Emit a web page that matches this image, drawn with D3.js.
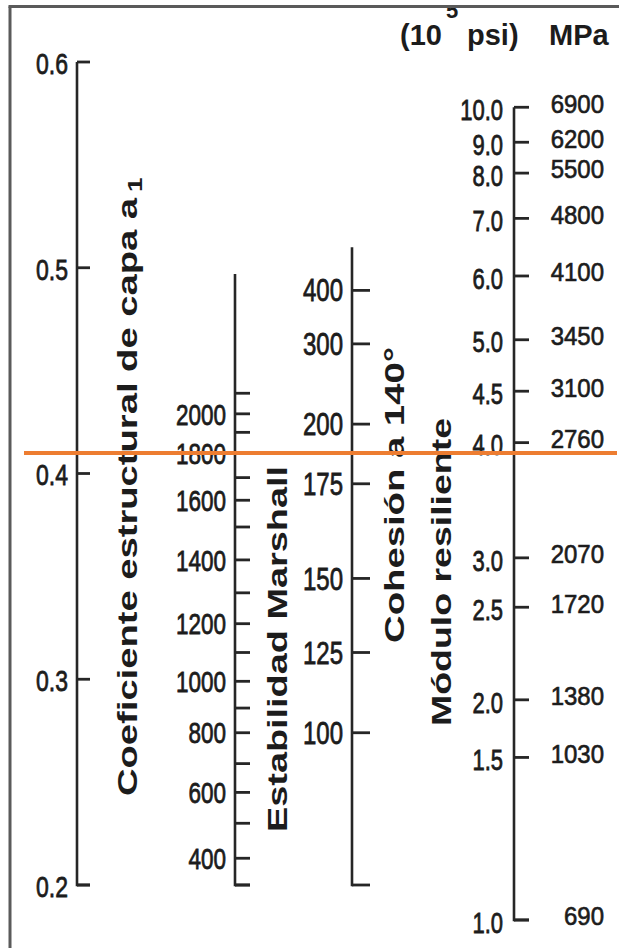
<!DOCTYPE html>
<html>
<head>
<meta charset="utf-8">
<script src="https://cdn.jsdelivr.net/npm/d3@7"></script>
<style>
  html, body { margin: 0; padding: 0; background: #fff; }
  svg { display: block; }
  text { font-family: "Liberation Sans", Arial, sans-serif; fill: #1c1c1c; }
</style>
</head>
<body>
<div id="nomo"></div>
<script>
// Coefficient a1 - the reference scale, everything else lines up against it
var a1Ticks = [0.2, 0.3, 0.4, 0.5, 0.6];

// Marshall stability: each tick and the a1 value it sits level with
var marshallValues = [300, 400, 500, 600, 700, 800, 900, 1000, 1100, 1200,
                      1300, 1400, 1500, 1600, 1700, 1800, 1900, 2000, 2100];
var marshallA1 = [0.200, 0.213, 0.230, 0.245, 0.259, 0.274, 0.286, 0.299, 0.313, 0.327,
                  0.342, 0.358, 0.374, 0.387, 0.398, 0.410, 0.420, 0.429, 0.439];
var marshallLabels = [400, 600, 800, 1000, 1200, 1400, 1600, 1800, 2000];

// Cohesion at 140 deg
var cohesionValues = [100, 125, 150, 175, 200, 300, 400];
var cohesionA1 = [0.274, 0.313, 0.349, 0.395, 0.424, 0.463, 0.489];

// Resilient modulus, 10^5 psi and MPa
var modulusPsi = [1.0, 1.5, 2.0, 2.5, 3.0, 4.0, 4.5, 5.0, 6.0, 7.0, 8.0, 9.0, 10.0];
var modulusMPa = [690, 1030, 1380, 1720, 2070, 2760, 3100, 3450, 4100, 4800, 5500, 6200, 6900];
var modulusA1 = [0.183, 0.262, 0.290, 0.335, 0.359, 0.415, 0.440, 0.465, 0.496, 0.524, 0.546, 0.561, 0.578];

// a1 range covered by each scale line
var a1Span = [0.2, 0.6];
var marshallSpan = [0.2, 0.497];
var cohesionSpan = [0.2, 0.51];
var modulusSpan = [0.183, 0.578];

// highlighted reading
var markedA1 = 0.41;

var width = 619;
var height = 948;
var frameTop = 6.5;

var svg = d3.select("#nomo")
    .append("svg")
    .attr("width", width)
    .attr("height", height);

svg.append("defs").append("clipPath")
    .attr("id", "frameClip")
    .append("rect")
    .attr("x", 11).attr("y", frameTop + 1.5)
    .attr("width", width).attr("height", height);

var y = d3.scaleLinear()
    .domain([0.2, 0.6])
    .range([885, 62]);

var marshallToA1 = d3.scaleLinear().domain(marshallValues).range(marshallA1);
var cohesionToA1 = d3.scaleLinear().domain(cohesionValues).range(cohesionA1);
var modulusToA1 = d3.scaleLinear().domain(modulusPsi).range(modulusA1);

var ink = "#262626";

// one vertical scale: line, ticks to the right, hook at the bottom
function drawScale(x, span, tickYs, tickLen) {
  var g = svg.append("g");
  g.append("line")
      .attr("x1", x).attr("x2", x)
      .attr("y1", y(span[0]) + 1.3).attr("y2", y(span[1]))
      .attr("stroke", ink)
      .attr("stroke-width", 2.6);

  g.selectAll("line.tick")
      .data(tickYs.concat([y(span[0])]))
      .enter()
      .append("line")
      .attr("class", "tick")
      .attr("x1", x).attr("x2", x + tickLen)
      .attr("y1", function(d) { return d; })
      .attr("y2", function(d) { return d; })
      .attr("stroke", ink)
      .attr("stroke-width", 2.8);
  return g;
}

// numeric labels; the scanned chart is stretched vertically, so are these
function drawLabels(items, x, anchor, size, stretch, dy) {
  svg.append("g")
      .selectAll("text")
      .data(items)
      .enter()
      .append("text")
      .attr("transform", function(d) {
        return "translate(" + x + "," + (d.y + dy) + ") scale(1," + stretch + ")";
      })
      .attr("dy", "0.36em")
      .attr("text-anchor", anchor)
      .style("font-size", size + "px")
      .style("stroke", "#1c1c1c")
      .style("stroke-width", 0.6)
      .text(function(d) { return d.t; });
}

// a1 scale
drawScale(77, a1Span, a1Ticks.map(function(v) { return y(v); }), 13);
drawLabels(a1Ticks.map(function(v) { return {y: y(v), t: v.toFixed(1)}; }),
    68, "end", 23, 1.3, 1);

// Marshall scale
drawScale(235, marshallSpan, marshallValues.map(function(v) { return y(marshallToA1(v)); }), 15);
drawLabels(marshallLabels.map(function(v) { return {y: y(marshallToA1(v)), t: String(v)}; }),
    226, "end", 22.5, 1.32, 0);

// Cohesion scale
drawScale(352, cohesionSpan, cohesionValues.map(function(v) { return y(cohesionToA1(v)); }), 18);
drawLabels(cohesionValues.map(function(v) { return {y: y(cohesionToA1(v)), t: String(v)}; }),
    343, "end", 24, 1.28, 0);

// Modulus scale, psi on the left, MPa on the right
drawScale(514, modulusSpan, modulusPsi.map(function(v) { return y(modulusToA1(v)); }), 15);
drawLabels(modulusPsi.map(function(v) { return {y: y(modulusToA1(v)), t: v.toFixed(1)}; }),
    503, "end", 22, 1.35, 2);
drawLabels(modulusPsi.map(function(v, i) { return {y: y(modulusToA1(v)), t: String(modulusMPa[i])}; }),
    604, "end", 24, 1.08, -4);

// rotated scale titles, stretched along the reading direction
function title(str, x, yStart, len, size) {
  return svg.append("text")
      .attr("transform", "translate(" + x + "," + yStart + ") rotate(-90)")
      .attr("textLength", len)
      .attr("lengthAdjust", "spacingAndGlyphs")
      .style("font-size", size + "px")
      .style("font-weight", "bold")
      .text(str);
}

title("Coeficiente estructural de capa a", 137, 796, 598, 28);
svg.append("text")
    .attr("transform", "translate(142,192) rotate(-90) scale(1.3,1)")
    .style("font-size", "20px")
    .style("font-weight", "bold")
    .text("1");
title("Estabilidad Marshall", 287, 832, 366, 28);
title("Cohesión a 140°", 404, 643, 296, 28);
title("Módulo resiliente", 451, 726, 308, 28);

// header of the modulus columns; the exponent is cut by the frame
var header = svg.append("g").attr("clip-path", "url(#frameClip)");
header.append("text")
    .attr("x", 400).attr("y", 45)
    .style("font-size", "29px").style("font-weight", "bold")
    .text("(10");
header.append("text")
    .attr("x", 446).attr("y", 18)
    .style("font-size", "22px").style("font-weight", "bold")
    .text("5");
header.append("text")
    .attr("x", 467).attr("y", 45)
    .style("font-size", "29px").style("font-weight", "bold")
    .text("psi)");
header.append("text")
    .attr("x", 549).attr("y", 45)
    .style("font-size", "29px").style("font-weight", "bold")
    .text("MPa");

// frame: top and left edges
svg.append("line")
    .attr("x1", 8.5).attr("x2", width)
    .attr("y1", frameTop).attr("y2", frameTop)
    .attr("stroke", "#5a5a5a")
    .attr("stroke-width", 3);
svg.append("line")
    .attr("x1", 10).attr("x2", 10)
    .attr("y1", frameTop).attr("y2", height)
    .attr("stroke", "#5a5a5a")
    .attr("stroke-width", 3);

// orange reading line
svg.append("line")
    .attr("x1", 24).attr("x2", 617)
    .attr("y1", y(markedA1)).attr("y2", y(markedA1))
    .attr("stroke", "#ed7d31")
    .attr("stroke-width", 4);
</script>
</body>
</html>
